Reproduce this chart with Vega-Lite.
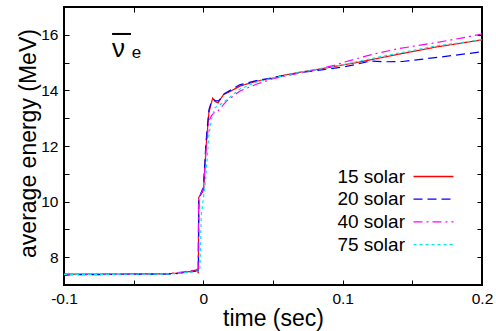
{
  "$schema": "https://vega.github.io/schema/vega-lite/v6.json",
  "width": 418,
  "height": 278,
  "autosize": "none",
  "padding": {"left": 64, "top": 7, "right": 14, "bottom": 46},
  "config": {
    "font": "Liberation Sans",
    "view": {"stroke": "black", "strokeWidth": 2},
    "axis": {"domain": false, "grid": false, "tickColor": "black", "tickWidth": 1, "labelColor": "black", "titleColor": "black", "labelFont": "Liberation Sans", "titleFont": "Liberation Sans", "titleFontWeight": "normal", "labelFlush": false, "labelOverlap": false}
  },
  "datasets": {
    "curves": [
      {"t": -0.1, "E": 7.39, "m": "15 solar"},
      {"t": -0.03, "E": 7.40, "m": "15 solar"},
      {"t": -0.02, "E": 7.42, "m": "15 solar"},
      {"t": -0.01, "E": 7.48, "m": "15 solar"},
      {"t": -0.0045, "E": 7.55, "m": "15 solar"},
      {"t": -0.0036, "E": 7.42, "m": "15 solar"},
      {"t": -0.0033, "E": 10.15, "m": "15 solar"},
      {"t": -0.0005, "E": 10.35, "m": "15 solar"},
      {"t": 0.0002, "E": 10.45, "m": "15 solar"},
      {"t": 0.002, "E": 12.0, "m": "15 solar"},
      {"t": 0.004, "E": 13.2, "m": "15 solar"},
      {"t": 0.0055, "E": 13.5, "m": "15 solar"},
      {"t": 0.0067, "E": 13.72, "m": "15 solar"},
      {"t": 0.0085, "E": 13.6, "m": "15 solar"},
      {"t": 0.0105, "E": 13.55, "m": "15 solar"},
      {"t": 0.0145, "E": 13.85, "m": "15 solar"},
      {"t": 0.02, "E": 13.98, "m": "15 solar"},
      {"t": 0.026, "E": 14.15, "m": "15 solar"},
      {"t": 0.038, "E": 14.33, "m": "15 solar"},
      {"t": 0.048, "E": 14.42, "m": "15 solar"},
      {"t": 0.055, "E": 14.52, "m": "15 solar"},
      {"t": 0.07, "E": 14.66, "m": "15 solar"},
      {"t": 0.085, "E": 14.78, "m": "15 solar"},
      {"t": 0.096, "E": 14.88, "m": "15 solar"},
      {"t": 0.11, "E": 15.0, "m": "15 solar"},
      {"t": 0.12, "E": 15.1, "m": "15 solar"},
      {"t": 0.14, "E": 15.3, "m": "15 solar"},
      {"t": 0.167, "E": 15.56, "m": "15 solar"},
      {"t": 0.185, "E": 15.7, "m": "15 solar"},
      {"t": 0.2, "E": 15.82, "m": "15 solar"},

      {"t": -0.1, "E": 7.34, "m": "20 solar"},
      {"t": -0.095, "E": 7.37, "m": "20 solar"},
      {"t": -0.03, "E": 7.39, "m": "20 solar"},
      {"t": -0.02, "E": 7.41, "m": "20 solar"},
      {"t": -0.01, "E": 7.47, "m": "20 solar"},
      {"t": -0.005, "E": 7.5, "m": "20 solar"},
      {"t": -0.0035, "E": 7.52, "m": "20 solar"},
      {"t": -0.0032, "E": 10.1, "m": "20 solar"},
      {"t": -0.001, "E": 10.4, "m": "20 solar"},
      {"t": 0.0, "E": 10.5, "m": "20 solar"},
      {"t": 0.002, "E": 12.2, "m": "20 solar"},
      {"t": 0.004, "E": 13.3, "m": "20 solar"},
      {"t": 0.0055, "E": 13.55, "m": "20 solar"},
      {"t": 0.007, "E": 13.68, "m": "20 solar"},
      {"t": 0.009, "E": 13.62, "m": "20 solar"},
      {"t": 0.011, "E": 13.62, "m": "20 solar"},
      {"t": 0.015, "E": 13.88, "m": "20 solar"},
      {"t": 0.02, "E": 14.02, "m": "20 solar"},
      {"t": 0.026, "E": 14.2, "m": "20 solar"},
      {"t": 0.038, "E": 14.35, "m": "20 solar"},
      {"t": 0.05, "E": 14.46, "m": "20 solar"},
      {"t": 0.07, "E": 14.64, "m": "20 solar"},
      {"t": 0.085, "E": 14.74, "m": "20 solar"},
      {"t": 0.1, "E": 14.84, "m": "20 solar"},
      {"t": 0.11, "E": 14.94, "m": "20 solar"},
      {"t": 0.12, "E": 15.06, "m": "20 solar"},
      {"t": 0.13, "E": 15.03, "m": "20 solar"},
      {"t": 0.143, "E": 15.04, "m": "20 solar"},
      {"t": 0.17, "E": 15.2, "m": "20 solar"},
      {"t": 0.2, "E": 15.39, "m": "20 solar"},

      {"t": -0.1, "E": 7.38, "m": "40 solar"},
      {"t": -0.03, "E": 7.4, "m": "40 solar"},
      {"t": -0.02, "E": 7.43, "m": "40 solar"},
      {"t": -0.01, "E": 7.5, "m": "40 solar"},
      {"t": -0.005, "E": 7.56, "m": "40 solar"},
      {"t": -0.0038, "E": 7.58, "m": "40 solar"},
      {"t": -0.0034, "E": 10.1, "m": "40 solar"},
      {"t": -0.001, "E": 10.35, "m": "40 solar"},
      {"t": 0.0003, "E": 10.5, "m": "40 solar"},
      {"t": 0.002, "E": 11.9, "m": "40 solar"},
      {"t": 0.004, "E": 12.9, "m": "40 solar"},
      {"t": 0.006, "E": 13.1, "m": "40 solar"},
      {"t": 0.008, "E": 13.2, "m": "40 solar"},
      {"t": 0.0096, "E": 13.2, "m": "40 solar"},
      {"t": 0.012, "E": 13.35, "m": "40 solar"},
      {"t": 0.0168, "E": 13.62, "m": "40 solar"},
      {"t": 0.026, "E": 13.97, "m": "40 solar"},
      {"t": 0.038, "E": 14.22, "m": "40 solar"},
      {"t": 0.05, "E": 14.42, "m": "40 solar"},
      {"t": 0.06, "E": 14.53, "m": "40 solar"},
      {"t": 0.075, "E": 14.68, "m": "40 solar"},
      {"t": 0.094, "E": 14.9, "m": "40 solar"},
      {"t": 0.1, "E": 15.0, "m": "40 solar"},
      {"t": 0.12, "E": 15.28, "m": "40 solar"},
      {"t": 0.14, "E": 15.5, "m": "40 solar"},
      {"t": 0.167, "E": 15.72, "m": "40 solar"},
      {"t": 0.185, "E": 15.88, "m": "40 solar"},
      {"t": 0.2, "E": 16.03, "m": "40 solar"},

      {"t": -0.1, "E": 7.38, "m": "75 solar"},
      {"t": -0.03, "E": 7.39, "m": "75 solar"},
      {"t": -0.02, "E": 7.41, "m": "75 solar"},
      {"t": -0.01, "E": 7.46, "m": "75 solar"},
      {"t": -0.004, "E": 7.5, "m": "75 solar"},
      {"t": -0.0025, "E": 7.5, "m": "75 solar"},
      {"t": -0.0015, "E": 9.5, "m": "75 solar"},
      {"t": 0.0005, "E": 10.3, "m": "75 solar"},
      {"t": 0.0015, "E": 10.7, "m": "75 solar"},
      {"t": 0.004, "E": 12.4, "m": "75 solar"},
      {"t": 0.006, "E": 13.0, "m": "75 solar"},
      {"t": 0.0084, "E": 13.38, "m": "75 solar"},
      {"t": 0.0144, "E": 13.56, "m": "75 solar"},
      {"t": 0.02, "E": 13.8, "m": "75 solar"},
      {"t": 0.026, "E": 14.04, "m": "75 solar"},
      {"t": 0.038, "E": 14.3, "m": "75 solar"},
      {"t": 0.05, "E": 14.45, "m": "75 solar"},
      {"t": 0.07, "E": 14.66, "m": "75 solar"},
      {"t": 0.085, "E": 14.78, "m": "75 solar"},
      {"t": 0.096, "E": 14.88, "m": "75 solar"},
      {"t": 0.12, "E": 15.14, "m": "75 solar"},
      {"t": 0.14, "E": 15.34, "m": "75 solar"},
      {"t": 0.167, "E": 15.6, "m": "75 solar"},
      {"t": 0.185, "E": 15.72, "m": "75 solar"},
      {"t": 0.2, "E": 15.83, "m": "75 solar"}
    ],
    "sym": [
      {"t": -0.0655, "E": 15.2, "s": "ν"},
      {"t": -0.0514, "E": 15.15, "s": "e"}
    ],
    "bar": [
      {"t": -0.0655, "t2": -0.0519, "E": 16.03}
    ]
  },
  "layer": [
    {
      "data": {"name": "curves"},
      "mark": {"type": "line", "strokeWidth": 1.2, "clip": true},
      "encoding": {
        "x": {"field": "t", "type": "quantitative", "scale": {"domain": [-0.1, 0.2], "nice": false, "zero": false},
          "axis": {"orient": "bottom", "title": "time (sec)", "titleFontSize": 23, "titlePadding": 1, "labelFontSize": 15.5, "values": [-0.1, -0.05, 0, 0.05, 0.1, 0.15, 0.2], "labelExpr": "indexof(['-0.1','0','0.1','0.2'], toString(datum.value)) >= 0 ? toString(datum.value) : ''", "tickSize": -5, "labelPadding": 11}},
        "y": {"field": "E", "type": "quantitative", "scale": {"domain": [7, 17], "nice": false, "zero": false},
          "axis": {"orient": "left", "title": "average energy (MeV)", "titleFontSize": 23, "titlePadding": 0, "labelFontSize": 15.5, "values": [7, 8, 9, 10, 11, 12, 13, 14, 15, 16, 17], "labelExpr": "datum.value % 2 == 0 ? toString(datum.value) : ''", "tickSize": -5, "labelPadding": 11, "titleY": 136}},
        "color": {"field": "m", "type": "nominal", "scale": {"domain": ["15 solar", "20 solar", "40 solar", "75 solar"], "range": ["#ff0000", "#0000ff", "#ff00ff", "#00e8e8"]},
          "legend": {"title": null, "orient": "none", "legendX": 360, "legendY": 160, "symbolType": "M-4,0H4", "symbolSize": 100, "symbolStrokeWidth": 1.3, "symbolFillColor": "transparent", "labelFontSize": 19, "labelColor": "black", "labelAlign": "right", "labelOffset": -38, "rowPadding": 2.7, "padding": 0}},
        "strokeDash": {"field": "m", "type": "nominal", "scale": {"domain": ["15 solar", "20 solar", "40 solar", "75 solar"], "range": [[1, 0], [9, 5], [9, 4, 2, 4], [3, 3]]}}
      }
    },
    {
      "data": {"name": "bar"},
      "mark": {"type": "rule", "color": "black", "strokeWidth": 2},
      "encoding": {
        "x": {"field": "t", "type": "quantitative", "axis": {"orient": "top", "title": null, "labels": false, "values": [-0.05, 0, 0.05, 0.1, 0.15], "tickSize": -5}},
        "x2": {"field": "t2"},
        "y": {"field": "E", "type": "quantitative", "axis": {"orient": "right", "title": null, "labels": false, "values": [8, 9, 10, 11, 12, 13, 14, 15, 16], "tickSize": -5}}
      }
    },
    {
      "data": {"name": "sym"},
      "mark": {"type": "text", "align": "left", "baseline": "alphabetic", "color": "black"},
      "encoding": {
        "x": {"field": "t", "type": "quantitative", "axis": null},
        "y": {"field": "E", "type": "quantitative", "axis": null},
        "text": {"field": "s"},
        "size": {"condition": {"test": "datum.s == 'ν'", "value": 26}, "value": 17}
      }
    }
  ],
  "resolve": {"axis": {"x": "independent", "y": "independent"}}
}
